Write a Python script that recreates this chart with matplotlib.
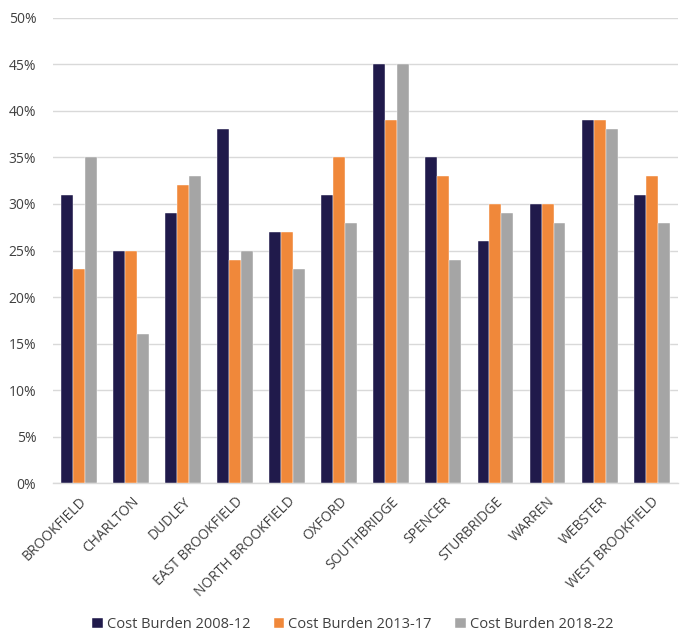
import matplotlib
matplotlib.use("Agg")
import matplotlib.pyplot as plt
import numpy as np
from matplotlib.ticker import FuncFormatter, MultipleLocator

categories = ["BROOKFIELD", "CHARLTON", "DUDLEY", "EAST BROOKFIELD", "NORTH BROOKFIELD",
              "OXFORD", "SOUTHBRIDGE", "SPENCER", "STURBRIDGE", "WARREN", "WEBSTER",
              "WEST BROOKFIELD"]
series_names = ["Cost Burden 2008-12", "Cost Burden 2013-17", "Cost Burden 2018-22"]
burden_2008_12 = [31, 25, 29, 38, 27, 31, 45, 35, 26, 30, 39, 31]
burden_2013_17 = [23, 25, 32, 24, 27, 35, 39, 33, 30, 30, 39, 33]
burden_2018_22 = [35, 16, 33, 25, 23, 28, 45, 24, 29, 28, 38, 28]
colors = ["#201A4B", "#F0883A", "#A5A5A5"]

plt.rcParams['font.family'] = ['Open Sans', 'DejaVu Sans']

fig = plt.figure(figsize=(6.88, 6.35), dpi=100)
ax = fig.add_axes([0.077, 0.239, 0.908, 0.733])

x = np.arange(len(categories))
w = 0.23
for i, (vals, name, c) in enumerate(zip([burden_2008_12, burden_2013_17, burden_2018_22], series_names, colors)):
    ax.bar(x + (i - 1) * w, vals, width=w, color=c, label=name, zorder=3,
           edgecolor="white", linewidth=0.3)

ax.set_xlim(-0.5, len(categories) - 0.5)
ax.set_ylim(0, 50)
ax.yaxis.set_major_locator(MultipleLocator(5))
ax.yaxis.set_major_formatter(FuncFormatter(lambda v, p: f"{int(round(v))}%"))
ax.grid(axis="y", color="#D9D9D9", linewidth=1, zorder=0)
for s in ["top", "right", "left"]:
    ax.spines[s].set_visible(False)
ax.spines["bottom"].set_color("#D9D9D9")
ax.spines["bottom"].set_linewidth(1)
ax.tick_params(axis="both", length=0, labelsize=10, colors="#404040")
ax.tick_params(axis="y", pad=12)
ax.set_xticks(x)
ax.set_xticklabels(categories, rotation=45, ha="right", rotation_mode="anchor")
ax.tick_params(axis="x", pad=8)

fig.legend(loc="center", bbox_to_anchor=(0.513, 0.016), ncol=3, frameon=False,
           fontsize=10.5, handlelength=0.7, handleheight=0.7, handletextpad=0.3,
           columnspacing=1.6, labelcolor="#404040")

fig.savefig("out.png", dpi=100)
